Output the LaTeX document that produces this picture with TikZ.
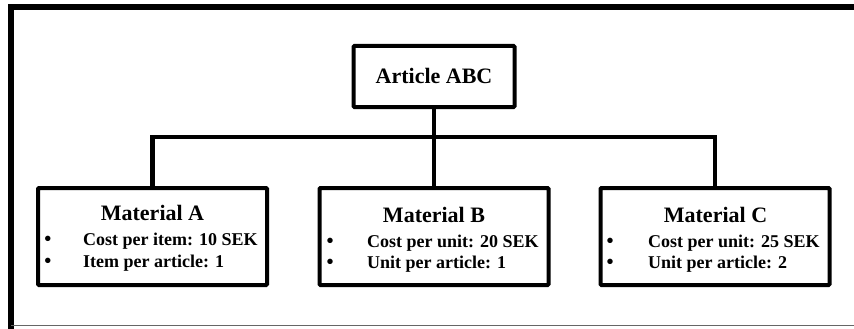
\documentclass[tikz,border=0pt]{standalone}
\usepackage{fontspec}
\setmainfont{Liberation Serif}
\begin{document}
\begin{tikzpicture}[x=1pt,y=-1pt,
  box/.style={draw, line width=4pt, rounded corners=1pt, inner sep=0pt, fill=white},
  matbox/.style={box, minimum width=229pt, minimum height=97pt},
  link/.style={line width=4.5pt},
  title/.style={inner sep=0pt, anchor=base, font=\bfseries\fontsize{22}{26}\selectfont},
  item/.style={inner sep=0pt, anchor=base west, font=\bfseries\fontsize{18}{21}\selectfont},
  bullet/.style={inner sep=0pt, anchor=base, font=\bfseries\fontsize{20}{21}\selectfont}]
\useasboundingbox (0,0) rectangle (854,329);

% page frame
\draw[line width=6pt] (11,329) -- (11,7) -- (854,7);
\draw[black!60, line width=1pt] (11,325) -- (854,325);

% boxes
\node[box, minimum width=161pt, minimum height=61pt] (abc) at (434,76.5) {};
\node[title] (abct) at (434,84) {Article ABC};

\node[matbox] (matA) at (152.5,236.5) {};
\node[matbox] (matB) at (434,236.5) {};
\node[matbox] (matC) at (715,236.5) {};

% connectors
\coordinate (bus) at (434,137);
\draw[link] (abc.south) -- (matB.north);
\draw[link] (matA.north) |- (bus) -| (matC.north);

% Material A
\node[title] (ta) at (152.5,220) {Material A};
\node[bullet] (ba1) at (48,245) {•};
\node[item] (ia1) at (83,245) {Cost per item: 10 SEK};
\node[bullet] (ba2) at (48,267) {•};
\node[item] (ia2) at (83,267) {Item per article: 1};

% Material B
\node[title] (tb) at (434,222) {Material B};
\node[bullet] (bb1) at (330,247) {•};
\node[item] (ib1) at (367,247) {Cost per unit: 20 SEK};
\node[bullet] (bb2) at (330,268) {•};
\node[item] (ib2) at (367,268) {Unit per article: 1};

% Material C
\node[title] (tc) at (715.5,222) {Material C};
\node[bullet] (bc1) at (610,247) {•};
\node[item] (ic1) at (648,247) {Cost per unit: 25 SEK};
\node[bullet] (bc2) at (610,268) {•};
\node[item] (ic2) at (648,268) {Unit per article: 2};
\end{tikzpicture}
\end{document}
